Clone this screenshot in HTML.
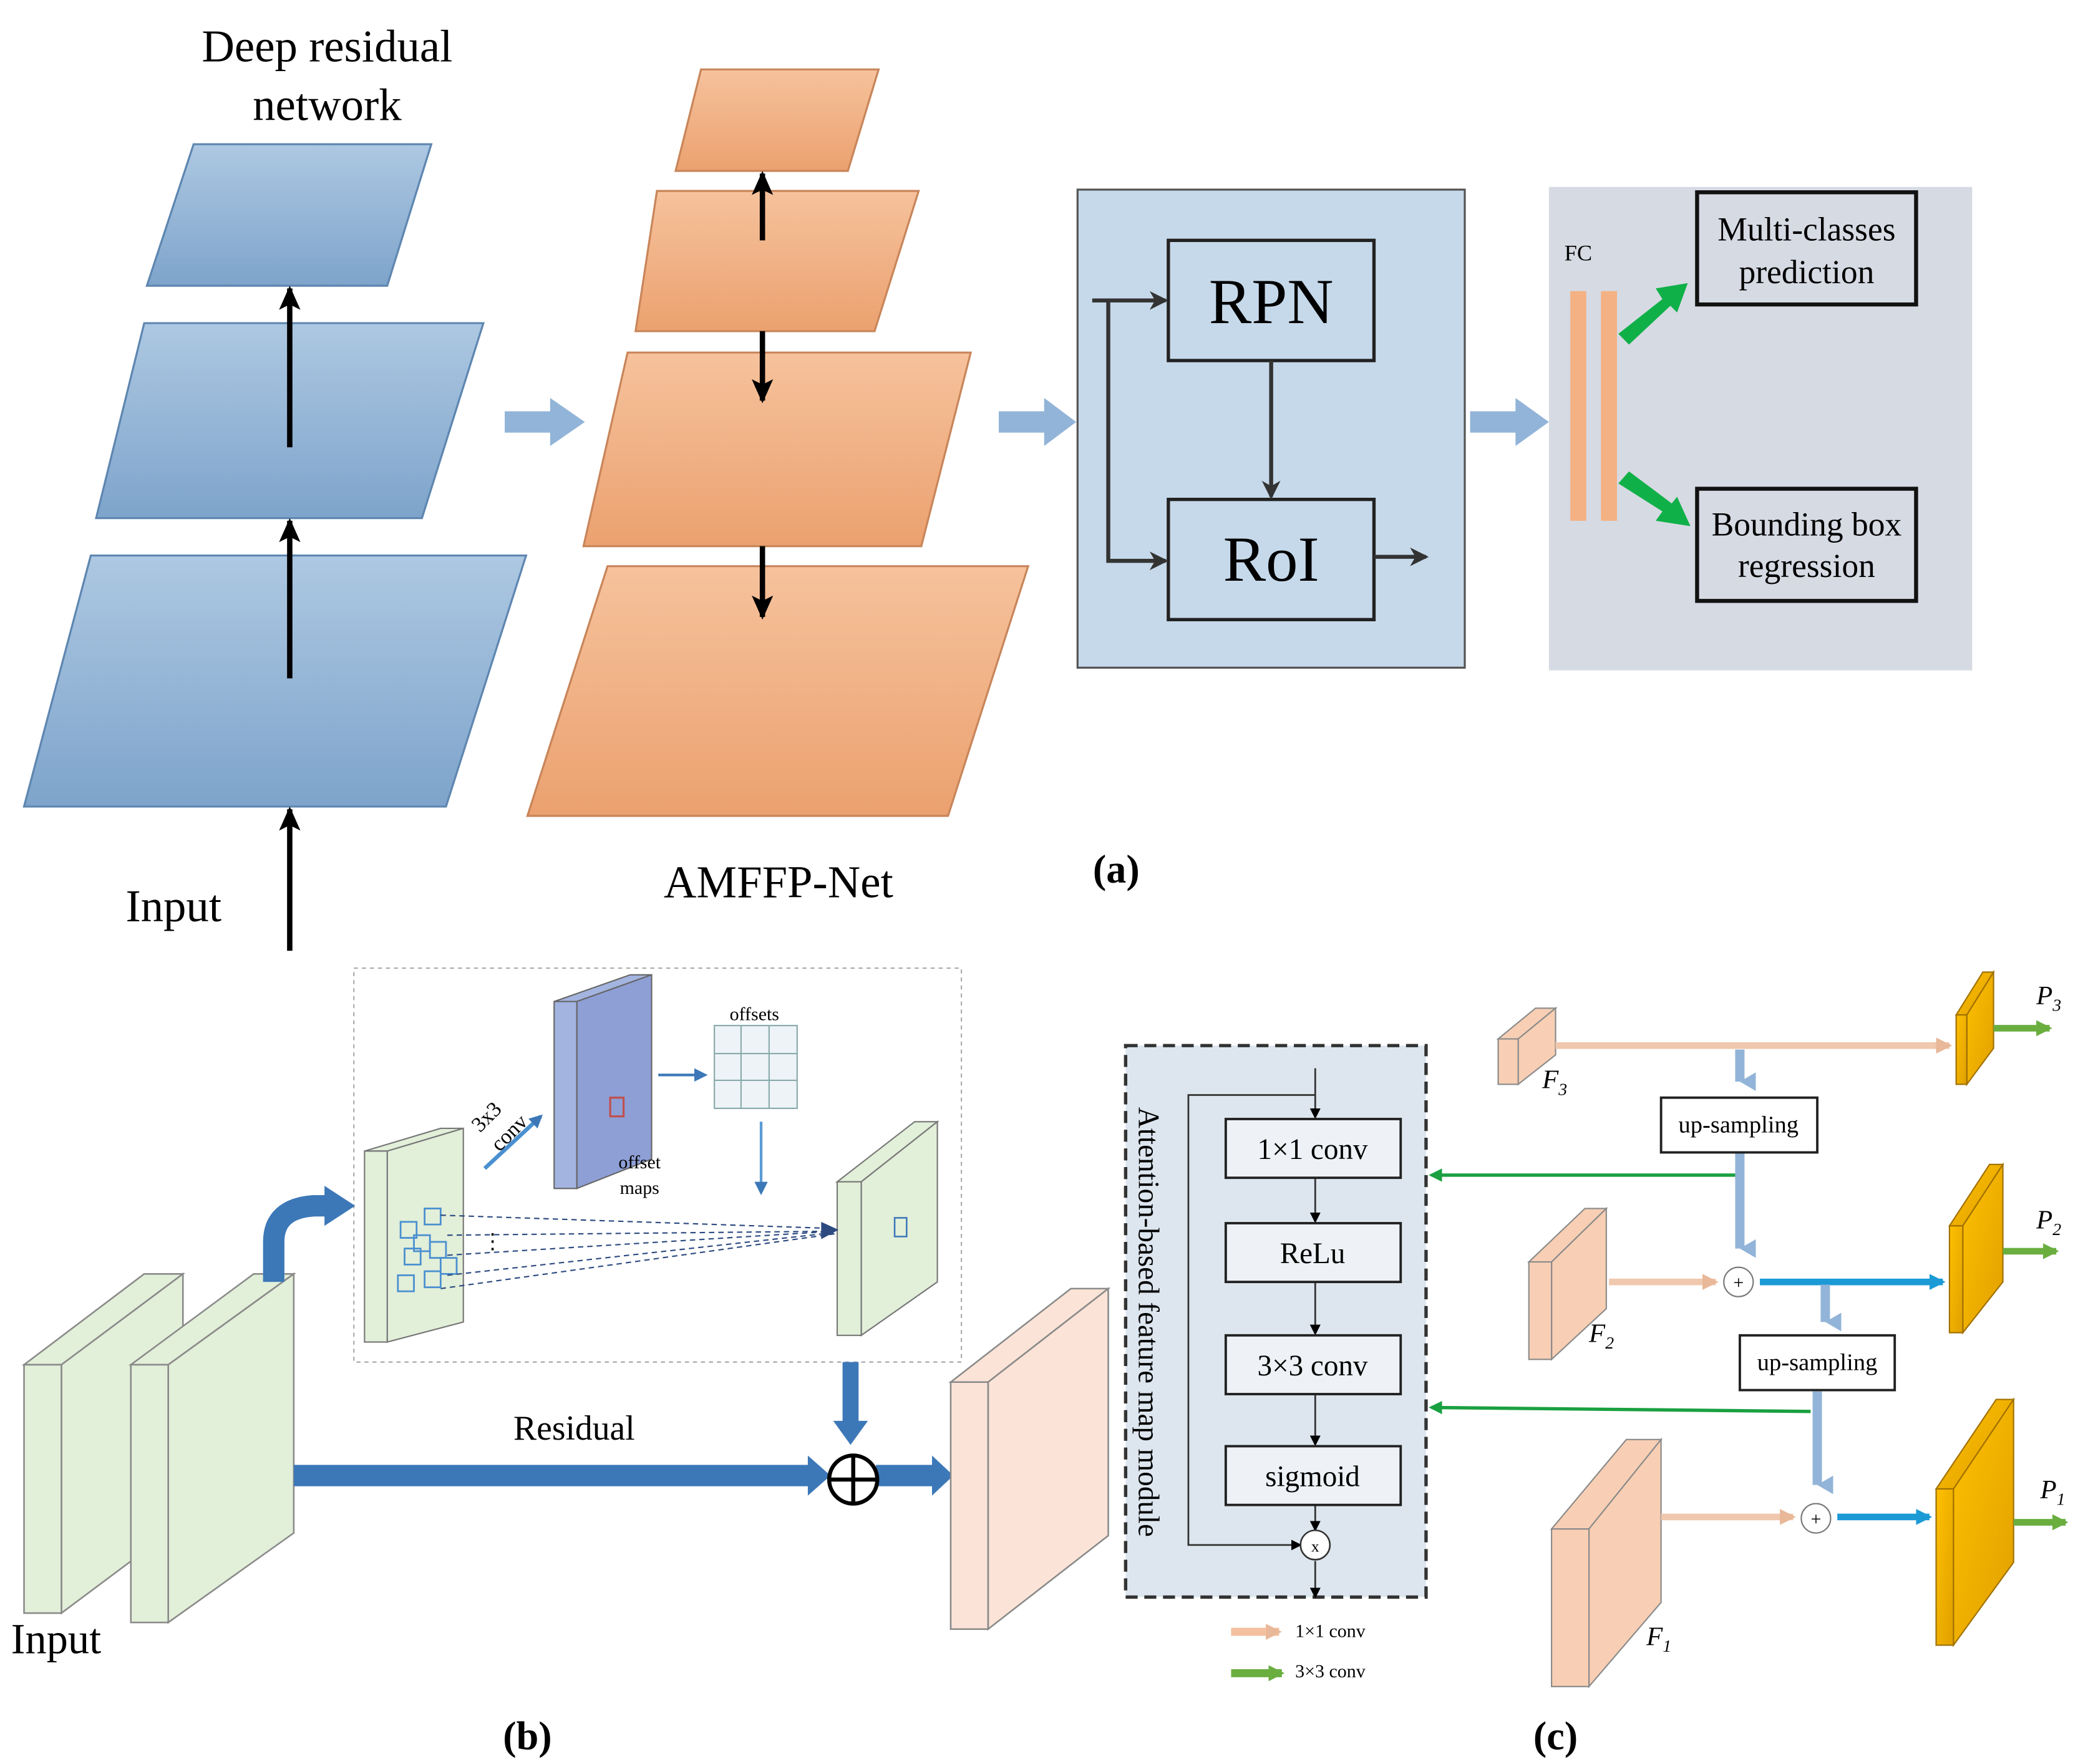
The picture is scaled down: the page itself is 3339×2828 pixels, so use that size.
<!DOCTYPE html>
<html><head><meta charset="utf-8"><style>html,body{margin:0;padding:0;background:#fff}svg{display:block}</style></head>
<body>
<svg width="3339" height="2828" viewBox="0 0 1560 1321" preserveAspectRatio="none" xmlns="http://www.w3.org/2000/svg" font-family="Liberation Serif, serif">
<defs>
<linearGradient id="bl" x1="0" y1="0" x2="0" y2="1"><stop offset="0" stop-color="#adc8e2"/><stop offset="1" stop-color="#7ea4cb"/></linearGradient>
<linearGradient id="or" x1="0" y1="0" x2="0" y2="1"><stop offset="0" stop-color="#f6c29c"/><stop offset="1" stop-color="#eba16f"/></linearGradient>
<linearGradient id="yl" x1="0" y1="0" x2="1" y2="1"><stop offset="0" stop-color="#ffc000"/><stop offset="1" stop-color="#e0a000"/></linearGradient>
<marker id="ak" markerWidth="8" markerHeight="8" refX="6" refY="4" orient="auto" markerUnits="userSpaceOnUse"><path d="M0,0 L8,4 L0,8 z" fill="#000"/></marker>
<marker id="akb" markerWidth="18" markerHeight="16" refX="16" refY="8" orient="auto" markerUnits="userSpaceOnUse"><path d="M0,0 L18,8 L0,16 L4,8 z" fill="#000"/></marker>
<marker id="ak2" markerWidth="14" markerHeight="14" refX="12" refY="7" orient="auto" markerUnits="userSpaceOnUse"><path d="M0,0 L14,7 L0,14 L4,7z" fill="#333"/></marker>
<marker id="ab" markerWidth="10" markerHeight="10" refX="8" refY="5" orient="auto" markerUnits="userSpaceOnUse"><path d="M0,0 L10,5 L0,10 z" fill="#3c78b8"/></marker>
<marker id="ag" markerWidth="10" markerHeight="10" refX="8" refY="5" orient="auto" markerUnits="userSpaceOnUse"><path d="M0,0 L10,5 L0,10 z" fill="#1aa040"/></marker>
<marker id="agr" markerWidth="12" markerHeight="12" refX="10" refY="6" orient="auto" markerUnits="userSpaceOnUse"><path d="M0,0 L12,6 L0,12 z" fill="#6aae40"/></marker>
<marker id="apc" markerWidth="12" markerHeight="12" refX="10" refY="6" orient="auto" markerUnits="userSpaceOnUse"><path d="M0,0 L12,6 L0,12 z" fill="#e8b898"/></marker>
<marker id="acy" markerWidth="12" markerHeight="12" refX="10" refY="6" orient="auto" markerUnits="userSpaceOnUse"><path d="M0,0 L12,6 L0,12 z" fill="#1b9ad6"/></marker>
<marker id="alb" markerWidth="14" markerHeight="14" refX="7" refY="12" orient="auto" markerUnits="userSpaceOnUse"><path d="M0,0 L14,0 L7,12 z" fill="#92b4d8"/></marker>
</defs>

<text x="245" y="46" font-size="34" text-anchor="middle">Deep residual</text>
<text x="245" y="90" font-size="34" text-anchor="middle">network</text>
<polygon points="145,108 323,108 290,214 110,214" fill="url(#bl)" stroke="#5e86b0" stroke-width="1.5"/>
<polygon points="108,242 362,242 316,388 72,388" fill="url(#bl)" stroke="#5e86b0" stroke-width="1.5"/>
<polygon points="68,416 394,416 334,604 18,604" fill="url(#bl)" stroke="#5e86b0" stroke-width="1.5"/>
<g stroke="#000" stroke-width="4" marker-end="url(#akb)">
<line x1="217" y1="335" x2="217" y2="216"/><line x1="217" y1="508" x2="217" y2="390"/><line x1="217" y1="712" x2="217" y2="606"/>
</g>
<text x="130" y="690" font-size="34" text-anchor="middle">Input</text>

<polygon points="525,52 658,52 635,128 506,128" fill="url(#or)" stroke="#c8855a" stroke-width="1.5"/>
<polygon points="492,143 688,143 655,248 476,248" fill="url(#or)" stroke="#c8855a" stroke-width="1.5"/>
<polygon points="470,264 727,264 690,409 437,409" fill="url(#or)" stroke="#c8855a" stroke-width="1.5"/>
<polygon points="455,424 770,424 710,611 395,611" fill="url(#or)" stroke="#c8855a" stroke-width="1.5"/>
<g stroke="#000" stroke-width="4" marker-end="url(#akb)">
<line x1="571" y1="180" x2="571" y2="130"/><line x1="571" y1="248" x2="571" y2="300"/><line x1="571" y1="409" x2="571" y2="462"/>
</g>
<text x="583" y="672" font-size="34" text-anchor="middle">AMFFP-Net</text>
<text x="836" y="661" font-size="30" font-weight="bold" text-anchor="middle">(a)</text>

<g fill="#92b4d8">
<polygon points="378,308 412,308 412,298 438,316 412,334 412,324 378,324"/>
<polygon points="748,308 782,308 782,298 806,316 782,334 782,324 748,324"/>
<polygon points="1101,308 1135,308 1135,298 1160,316 1135,334 1135,324 1101,324"/>
</g>

<rect x="807" y="142" width="290" height="358" fill="#c6d9ea" stroke="#555" stroke-width="1.5"/>
<rect x="875" y="180" width="154" height="90" fill="none" stroke="#222" stroke-width="2.5"/>
<rect x="875" y="374" width="154" height="90" fill="none" stroke="#222" stroke-width="2.5"/>
<text x="952" y="242" font-size="48" text-anchor="middle">RPN</text>
<text x="952" y="435" font-size="48" text-anchor="middle">RoI</text>
<g stroke="#333" stroke-width="3" fill="none">
<line x1="952" y1="270" x2="952" y2="372" marker-end="url(#ak2)"/>
<polyline points="818,225 873,225" marker-end="url(#ak2)"/>
<polyline points="830,225 830,420 873,420" marker-end="url(#ak2)"/>
<line x1="1029" y1="417" x2="1068" y2="417" marker-end="url(#ak2)"/>
</g>

<rect x="1160" y="140" width="317" height="362" fill="#d6dae3"/>
<text x="1182" y="195" font-size="17" text-anchor="middle">FC</text>
<rect x="1176" y="218" width="12" height="172" fill="#f4b183"/>
<rect x="1199" y="218" width="12" height="172" fill="#f4b183"/>
<rect x="1271" y="144" width="164" height="84" fill="none" stroke="#111" stroke-width="3"/>
<text x="1353" y="180" font-size="25" text-anchor="middle">Multi-classes</text>
<text x="1353" y="212" font-size="25" text-anchor="middle">prediction</text>
<rect x="1271" y="366" width="164" height="84" fill="none" stroke="#111" stroke-width="3"/>
<text x="1353" y="401" font-size="25" text-anchor="middle">Bounding box</text>
<text x="1353" y="432" font-size="25" text-anchor="middle">regression</text>
<g fill="#10b048">
<polygon points="1212,250 1245,224 1240,216 1264,212 1256,234 1251,229 1220,258"/>
<polygon points="1212,362 1245,383 1240,390 1266,394 1256,372 1252,377 1220,353"/>
</g>

<rect x="265" y="725" width="455" height="295" fill="none" stroke="#aaa" stroke-width="1" stroke-dasharray="3,3"/>
<g stroke="#8a8a8a" stroke-width="1.2" fill="#e2efd9">
<polygon points="18,1022 108,954 137,954 46,1022"/>
<polygon points="46,1022 137,954 137,1140 46,1208"/>
<rect x="18" y="1022" width="28" height="186"/>
<polygon points="98,1022 190,954 220,954 126,1022"/>
<polygon points="126,1022 220,954 220,1148 126,1215"/>
<rect x="98" y="1022" width="28" height="193"/>
</g>
<text x="42" y="1238" font-size="32" text-anchor="middle">Input</text>
<path d="M205,960 L205,930 Q205,905 235,903 L245,903" stroke="#3c78b8" stroke-width="16" fill="none"/>
<polygon points="243,888 266,903 243,918" fill="#3c78b8"/>
<rect x="220" y="1097" width="390" height="16" fill="#3c78b8"/>
<polygon points="605,1090 622,1105 605,1120" fill="#3c78b8"/>
<rect x="656" y="1097" width="44" height="16" fill="#3c78b8"/>
<polygon points="698,1090 714,1105 698,1120" fill="#3c78b8"/>
<rect x="631" y="1020" width="12" height="48" fill="#3c78b8"/>
<polygon points="624,1064 650,1064 637,1082" fill="#3c78b8"/>
<circle cx="639" cy="1108" r="18" fill="#fff" stroke="#000" stroke-width="3"/>
<line x1="621" y1="1108" x2="657" y2="1108" stroke="#000" stroke-width="3"/>
<line x1="639" y1="1090" x2="639" y2="1126" stroke="#000" stroke-width="3"/>
<text x="430" y="1078" font-size="26" text-anchor="middle">Residual</text>
<g stroke="#8a8a8a" stroke-width="1.2" fill="#fbe4d7">
<polygon points="712,1035 802,965 830,965 740,1035"/>
<polygon points="740,1035 830,965 830,1150 740,1220"/>
<rect x="712" y="1035" width="28" height="185"/>
</g>
<text x="395" y="1310" font-size="30" font-weight="bold" text-anchor="middle">(b)</text>

<g stroke="#777" stroke-width="1" fill="#e2efd9">
<polygon points="273,862 330,845 347,845 290,862"/>
<polygon points="290,862 347,845 347,990 290,1005"/>
<rect x="273" y="862" width="17" height="143"/>
<polygon points="627,885 685,840 702,840 645,885"/>
<polygon points="645,885 702,840 702,960 645,1000"/>
<rect x="627" y="885" width="18" height="115"/>
</g>
<g stroke="#666" stroke-width="1" fill="#a4b4e0">
<polygon points="415,750 472,730 488,730 432,750"/>
<polygon points="432,750 488,730 488,868 432,890" fill="#8e9fd6"/>
<rect x="415" y="750" width="17" height="140"/>
</g>
<rect x="457" y="822" width="10" height="14" fill="none" stroke="#c0504d" stroke-width="1.5"/>
<rect x="670" y="912" width="9" height="14" fill="none" stroke="#3c78b8" stroke-width="1.2"/>
<g fill="none" stroke="#4a90d0" stroke-width="1.3">
<rect x="300" y="915" width="12" height="12"/><rect x="318" y="905" width="12" height="12"/><rect x="303" y="935" width="12" height="12"/>
<rect x="322" y="930" width="12" height="12"/><rect x="298" y="955" width="12" height="12"/><rect x="318" y="952" width="12" height="12"/>
<rect x="330" y="942" width="12" height="12"/><rect x="310" y="925" width="12" height="12"/>
</g>
<g stroke="#2c4a80" stroke-width="1" stroke-dasharray="4,3">
<line x1="330" y1="910" x2="625" y2="920"/><line x1="335" y1="925" x2="625" y2="922"/><line x1="335" y1="940" x2="625" y2="922"/><line x1="335" y1="955" x2="625" y2="923"/><line x1="330" y1="965" x2="625" y2="924"/>
</g>
<polygon points="615,915 628,921 615,928" fill="#2c4a80"/>
<text x="361" y="935" font-size="16">⋮</text>
<line x1="363" y1="875" x2="405" y2="836" stroke="#4a90d0" stroke-width="3" marker-end="url(#ab)"/>
<text x="368" y="840" font-size="16" transform="rotate(-45 368 840)" text-anchor="middle">3x3</text>
<text x="385" y="852" font-size="16" transform="rotate(-45 385 852)" text-anchor="middle">conv</text>
<text x="479" y="875" font-size="14" text-anchor="middle">offset</text>
<text x="479" y="894" font-size="14" text-anchor="middle">maps</text>
<line x1="493" y1="805" x2="528" y2="805" stroke="#3c78b8" stroke-width="2" marker-end="url(#ab)"/>
<text x="565" y="764" font-size="14" text-anchor="middle">offsets</text>
<g stroke="#8aa" stroke-width="1" fill="#eef3f8">
<rect x="535" y="768" width="62" height="62"/>
<line x1="555" y1="768" x2="555" y2="830"/><line x1="576" y1="768" x2="576" y2="830"/>
<line x1="535" y1="789" x2="597" y2="789"/><line x1="535" y1="809" x2="597" y2="809"/>
</g>
<line x1="570" y1="840" x2="570" y2="893" stroke="#5b9bd5" stroke-width="2" marker-end="url(#ab)"/>

<rect x="843" y="783" width="225" height="413" fill="#dde6ef" stroke="#333" stroke-width="2.5" stroke-dasharray="9,5"/>
<text x="853" y="990" font-size="22" text-anchor="middle" transform="rotate(90 853 990)">Attention-based feature map module</text>
<g stroke="#333" stroke-width="1.3" fill="none">
<line x1="985" y1="800" x2="985" y2="836" marker-end="url(#ak)"/>
<polyline points="985,820 890,820 890,1157 973,1157" marker-end="url(#ak)"/>
<line x1="985" y1="882" x2="985" y2="914" marker-end="url(#ak)"/>
<line x1="985" y1="960" x2="985" y2="998" marker-end="url(#ak)"/>
<line x1="985" y1="1044" x2="985" y2="1081" marker-end="url(#ak)"/>
<line x1="985" y1="1127" x2="985" y2="1145" marker-end="url(#ak)"/>
<line x1="985" y1="1169" x2="985" y2="1195" marker-end="url(#ak)"/>
</g>
<g fill="#eef2f6" stroke="#222" stroke-width="1.8">
<rect x="918" y="838" width="131" height="44"/><rect x="918" y="916" width="131" height="44"/>
<rect x="918" y="1000" width="131" height="44"/><rect x="918" y="1083" width="131" height="44"/>
</g>
<g font-size="22" text-anchor="middle">
<text x="983" y="868">1×1 conv</text><text x="983" y="946">ReLu</text>
<text x="983" y="1030">3×3 conv</text><text x="983" y="1113">sigmoid</text>
</g>
<circle cx="985" cy="1157" r="11" fill="#fff" stroke="#333" stroke-width="1.2"/>
<text x="985" y="1162" font-size="12" text-anchor="middle">x</text>
<line x1="1300" y1="880" x2="1072" y2="880" stroke="#1aa040" stroke-width="2.5" marker-end="url(#ag)"/>
<line x1="1356" y1="1057" x2="1072" y2="1054" stroke="#1aa040" stroke-width="2.5" marker-end="url(#ag)"/>
<line x1="922" y1="1222" x2="958" y2="1222" stroke="#f4c0a0" stroke-width="6" marker-end="url(#apc)"/>
<text x="970" y="1226" font-size="14">1×1 conv</text>
<line x1="922" y1="1253" x2="960" y2="1253" stroke="#6aae40" stroke-width="6" marker-end="url(#agr)"/>
<text x="970" y="1256" font-size="14">3×3 conv</text>
<text x="1165" y="1310" font-size="30" font-weight="bold" text-anchor="middle">(c)</text>

<g stroke="#8a8a8a" stroke-width="1" fill="#f8cfb4">
<polygon points="1122,778 1150,755 1165,755 1137,778"/><polygon points="1137,778 1165,755 1165,790 1137,812"/><rect x="1122" y="778" width="15" height="34"/>
<polygon points="1145,945 1187,905 1203,905 1162,945"/><polygon points="1162,945 1203,905 1203,980 1162,1018"/><rect x="1145" y="945" width="17" height="73"/>
<polygon points="1162,1145 1218,1078 1244,1078 1190,1145"/><polygon points="1190,1145 1244,1078 1244,1200 1190,1263"/><rect x="1162" y="1145" width="28" height="118"/>
</g>
<g stroke="#a07000" stroke-width="1" fill="url(#yl)">
<polygon points="1465,760 1485,728 1493,728 1473,760"/><polygon points="1473,760 1493,728 1493,785 1473,812"/><rect x="1465" y="760" width="8" height="52"/>
<polygon points="1460,918 1490,872 1500,872 1470,918"/><polygon points="1470,918 1500,872 1500,960 1470,998"/><rect x="1460" y="918" width="10" height="80"/>
<polygon points="1450,1115 1495,1048 1508,1048 1463,1115"/><polygon points="1463,1115 1508,1048 1508,1170 1463,1232"/><rect x="1450" y="1115" width="13" height="117"/>
</g>
<g font-size="20" font-style="italic">
<text x="1155" y="815">F<tspan font-size="13" dy="5">3</tspan></text>
<text x="1190" y="1005">F<tspan font-size="13" dy="5">2</tspan></text>
<text x="1233" y="1232">F<tspan font-size="13" dy="5">1</tspan></text>
<text x="1525" y="752">P<tspan font-size="13" dy="5">3</tspan></text>
<text x="1525" y="920">P<tspan font-size="13" dy="5">2</tspan></text>
<text x="1528" y="1122">P<tspan font-size="13" dy="5">1</tspan></text>
</g>
<g stroke-width="5">
<line x1="1165" y1="783" x2="1460" y2="783" stroke="#f0c8ae" marker-end="url(#apc)"/>
<line x1="1205" y1="960" x2="1285" y2="960" stroke="#f0c8ae" marker-end="url(#apc)"/>
<line x1="1244" y1="1136" x2="1343" y2="1136" stroke="#f0c8ae" marker-end="url(#apc)"/>
<line x1="1318" y1="960" x2="1455" y2="960" stroke="#1b9ad6" marker-end="url(#acy)"/>
<line x1="1376" y1="1136" x2="1445" y2="1136" stroke="#1b9ad6" marker-end="url(#acy)"/>
<line x1="1493" y1="770" x2="1535" y2="770" stroke="#6aae40" marker-end="url(#agr)"/>
<line x1="1500" y1="937" x2="1540" y2="937" stroke="#6aae40" marker-end="url(#agr)"/>
<line x1="1508" y1="1140" x2="1547" y2="1140" stroke="#6aae40" marker-end="url(#agr)"/>
</g>
<g stroke="#92b4d8" stroke-width="7">
<line x1="1303" y1="786" x2="1303" y2="810" marker-end="url(#alb)"/>
<line x1="1303" y1="863" x2="1303" y2="935" marker-end="url(#alb)"/>
<line x1="1367" y1="962" x2="1367" y2="990" marker-end="url(#alb)"/>
<line x1="1361" y1="1042" x2="1361" y2="1112" marker-end="url(#alb)"/>
</g>
<g fill="#fff" stroke="#222" stroke-width="1.8">
<rect x="1244" y="822" width="117" height="41"/><rect x="1303" y="1000" width="116" height="41"/>
</g>
<g font-size="18" text-anchor="middle"><text x="1302" y="848">up-sampling</text><text x="1361" y="1026">up-sampling</text></g>
<g fill="#fff" stroke="#777" stroke-width="1">
<circle cx="1302" cy="960" r="11"/><circle cx="1360" cy="1137" r="11"/>
</g>
<text x="1302" y="965" font-size="14" text-anchor="middle">+</text>
<text x="1360" y="1142" font-size="14" text-anchor="middle">+</text>
</svg>
</body></html>
